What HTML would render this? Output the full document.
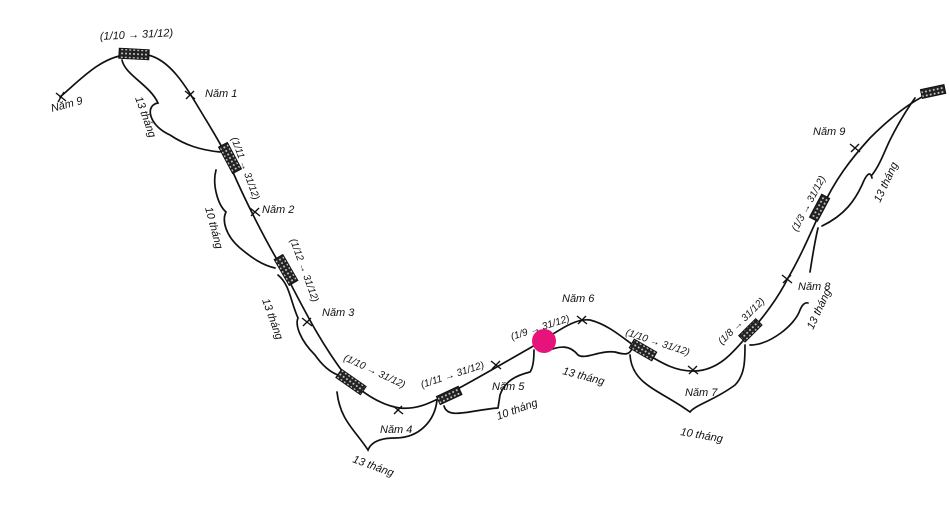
<!DOCTYPE html>
<html><head><meta charset="utf-8"><style>
body{margin:0;background:#fff;width:950px;height:505px;overflow:hidden}
text{font-family:"Liberation Sans",sans-serif;font-style:italic;fill:#111}
</style></head><body>
<svg width="950" height="505" viewBox="0 0 950 505" xmlns="http://www.w3.org/2000/svg">
<defs><pattern id="h" width="4" height="4" patternUnits="userSpaceOnUse"><rect width="4" height="4" fill="#222"/><circle cx="2" cy="2" r="1" fill="#ccc"/></pattern></defs>
<g fill="none" stroke="#111" stroke-width="1.7" stroke-linecap="round">
<path d="M60,97 C80,80 100,58 125,55 L148,55 C170,60 185,85 200,110 C215,135 225,150 232,170 C245,200 265,240 282,268 C300,300 315,335 345,375 C360,392 380,405 400,408 C420,410 435,400 448,394 C475,380 500,365 530,348 L540,342 C560,330 575,318 590,320 C610,325 625,340 640,350 C660,362 675,372 695,371 C720,370 735,350 748,335 C765,315 778,298 788,278 C800,258 812,230 822,208 C835,180 850,160 870,138 C890,118 910,102 930,93"/>
<path d="M122,60 C125,75 150,85 158,103 C145,105 148,125 170,135 C185,145 200,150 220,152"/>
<path d="M216,170 C212,185 218,205 226,212 C222,220 225,235 240,248 C252,258 262,265 275,268"/>
<path d="M278,275 C290,285 290,300 298,318 C295,325 300,340 315,355 C322,365 330,372 338,375"/>
<path d="M337,392 C340,420 355,430 368,450 C372,440 385,438 395,438 C420,438 435,420 437,400"/>
<path d="M444,406 C448,420 470,410 498,408 L500,395 C505,380 518,375 530,372 C533,368 534,360 534,350"/>
<path d="M545,352 C560,345 570,345 578,355 C585,360 600,350 615,352 C625,355 630,355 632,348"/>
<path d="M630,355 C632,385 660,390 690,412 C695,405 715,400 735,385 C745,375 745,360 745,345"/>
<path d="M750,345 C770,345 795,325 800,310 C802,305 805,302 808,303"/>
<path d="M818,228 C814,245 812,260 810,272"/>
<path d="M822,226 C845,215 855,200 862,185 C866,175 870,170 872,178 M872,175 C880,165 885,150 890,140 C900,120 910,105 915,98"/>
</g>
<g stroke="#111" stroke-width="1.4">
<path d="M56,93 L66,101 M58,102 L64,92"/><path d="M185,91 L195,99 M186,99 L194,91"/>
<path d="M250,208 L260,216 M251,216 L259,208"/><path d="M302,318 L312,326 M303,326 L311,318"/>
<path d="M393,406 L403,414 M394,414 L402,406"/><path d="M491,361 L501,369 M492,369 L500,361"/>
<path d="M577,316 L587,324 M578,324 L586,316"/><path d="M688,366 L698,374 M689,374 L697,366"/>
<path d="M782,275 L792,283 M783,283 L791,275"/><path d="M850,144 L860,152 M851,152 L859,144"/>
</g>
<g fill="url(#h)" stroke="#111" stroke-width="1">
<rect x="119" y="49" width="30" height="10" transform="rotate(3 134 54)"/>
<rect x="215" y="153" width="30" height="10" transform="rotate(62 230 158)"/>
<rect x="271" y="265" width="30" height="10" transform="rotate(60 286 270)"/>
<rect x="336" y="377" width="30" height="10" transform="rotate(35 351 382)"/>
<rect x="437" y="391" width="24" height="9" transform="rotate(-25 449 395)"/>
<rect x="630" y="345" width="26" height="10" transform="rotate(30 643 350)"/>
<rect x="738" y="326" width="24" height="9" transform="rotate(-45 750 330)"/>
<rect x="807" y="203" width="26" height="9" transform="rotate(-62 820 208)"/>
<rect x="921" y="87" width="24" height="9" transform="rotate(-12 933 91)"/>
</g>
<circle cx="544" cy="341" r="12" fill="#e8137a"/>
<g font-size="11">
<text x="100" y="40" transform="rotate(-3 100 40)">(1/10 → 31/12)</text>
<text x="205" y="97">Năm 1</text>
<text x="52" y="112" transform="rotate(-15 52 112)">Năm 9</text>
<text x="262" y="213">Năm 2</text>
<text x="322" y="316">Năm 3</text>
<text x="380" y="433">Năm 4</text>
<text x="492" y="390">Năm 5</text>
<text x="562" y="302">Năm 6</text>
<text x="685" y="396">Năm 7</text>
<text x="798" y="290">Năm 8</text>
<text x="813" y="135">Năm 9</text>
<text x="9" y="0" font-size="10" transform="translate(228,130) rotate(70)">(1/11 → 31/12)</text>
<text x="0" y="0" font-size="10" transform="translate(290,240) rotate(70)">(1/12 → 31/12)</text>
<text x="0" y="0" font-size="10" transform="translate(343,360) rotate(25)">(1/10 → 31/12)</text>
<text x="0" y="0" font-size="10" transform="translate(422,388) rotate(-18)">(1/11 → 31/12)</text>
<text x="0" y="0" font-size="10" transform="translate(512,340) rotate(-18)">(1/9 → 31/12)</text>
<text x="0" y="0" font-size="10" transform="translate(625,335) rotate(18)">(1/10 → 31/12)</text>
<text x="0" y="0" font-size="10" transform="translate(722,345) rotate(-45)">(1/8 → 31/12)</text>
<text x="0" y="0" font-size="10" transform="translate(797,232) rotate(-62)">(1/3 → 31/12)</text>
<text x="0" y="0" transform="translate(135,98) rotate(70)">13 tháng</text>
<text x="0" y="0" transform="translate(205,208) rotate(75)">10 tháng</text>
<text x="0" y="0" transform="translate(262,300) rotate(70)">13 tháng</text>
<text x="0" y="0" transform="translate(352,462) rotate(20)">13 tháng</text>
<text x="0" y="0" transform="translate(498,420) rotate(-20)">10 tháng</text>
<text x="0" y="0" transform="translate(562,374) rotate(15)">13 tháng</text>
<text x="0" y="0" transform="translate(680,435) rotate(10)">10 tháng</text>
<text x="0" y="0" transform="translate(813,330) rotate(-65)">13 tháng</text>
<text x="0" y="0" transform="translate(880,203) rotate(-65)">13 tháng</text>
</g>
</svg>
</body></html>
